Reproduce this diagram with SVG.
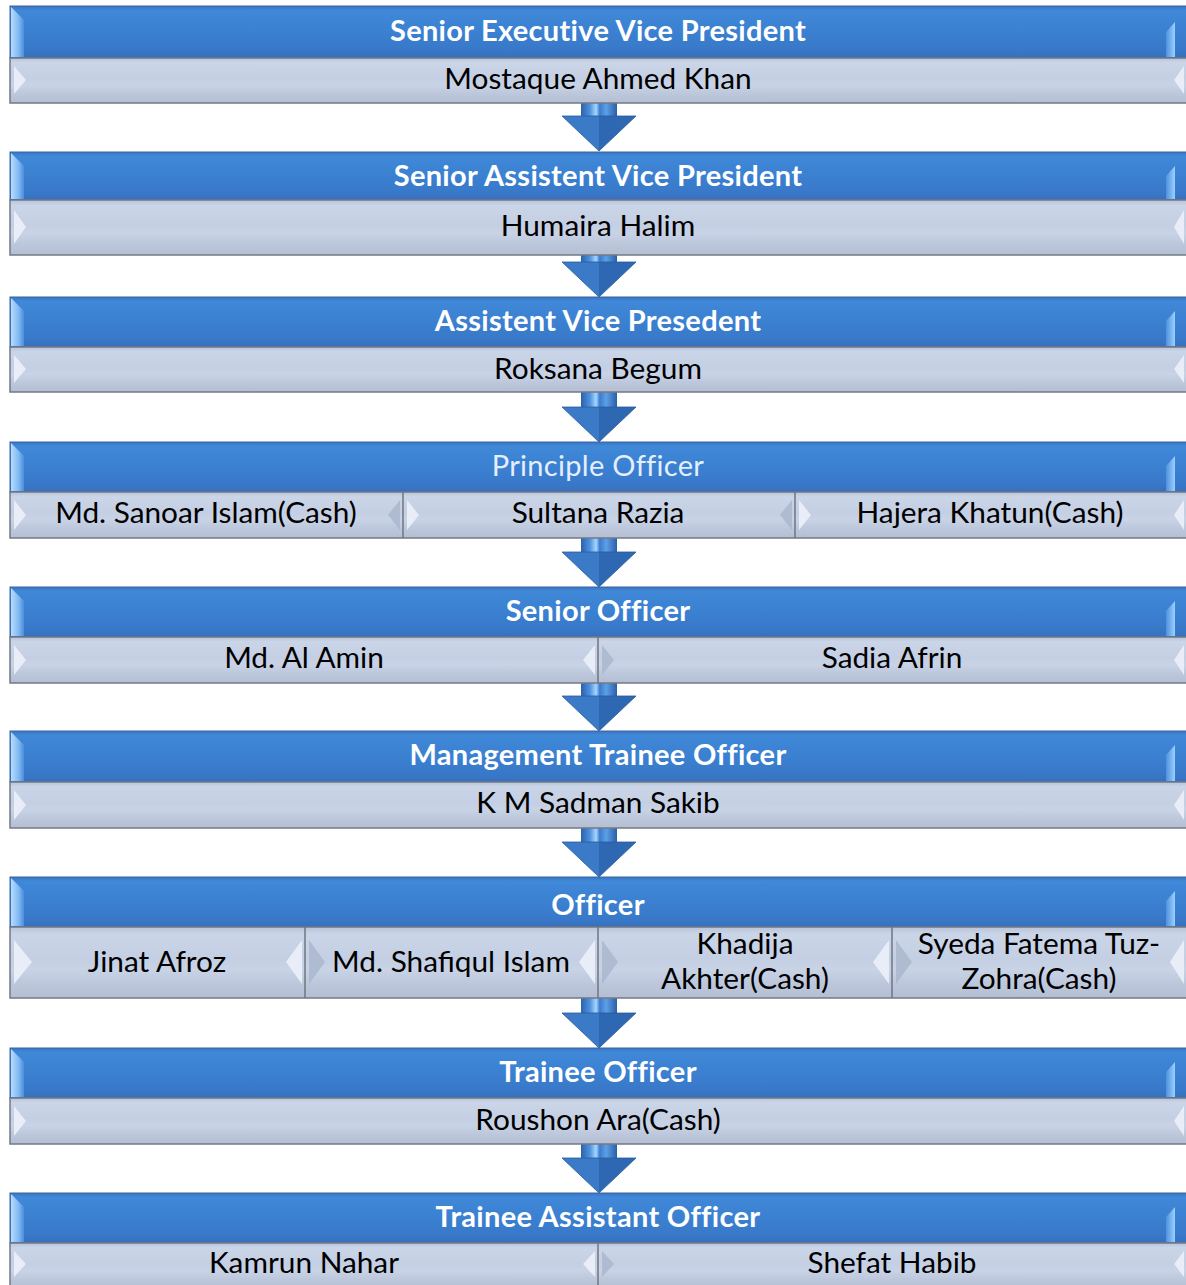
<svg xmlns="http://www.w3.org/2000/svg" width="1186" height="1285" viewBox="0 0 1186 1285">
<defs>
<linearGradient id="blueG" x1="0" y1="0" x2="0" y2="1">
<stop offset="0" stop-color="#3a74c0"/><stop offset="0.08" stop-color="#4088d8"/><stop offset="0.5" stop-color="#3b80d1"/><stop offset="0.85" stop-color="#3978c8"/><stop offset="1" stop-color="#3570bd"/>
</linearGradient>
<linearGradient id="grayG" x1="0" y1="0" x2="0" y2="1">
<stop offset="0" stop-color="#b8c3d8"/><stop offset="0.1" stop-color="#cbd5e8"/><stop offset="0.45" stop-color="#c4cfe3"/><stop offset="0.6" stop-color="#c9d3e6"/><stop offset="0.8" stop-color="#bcc7dc"/><stop offset="1" stop-color="#b4bfd4"/>
</linearGradient>
<linearGradient id="leftBev" x1="0" y1="0" x2="1" y2="0">
<stop offset="0" stop-color="#b6dcff"/><stop offset="0.6" stop-color="#7fb8f2"/><stop offset="1" stop-color="#4a8ddc"/>
</linearGradient>
<linearGradient id="rightBev" x1="0" y1="0" x2="1" y2="0">
<stop offset="0" stop-color="#4e92de"/><stop offset="1" stop-color="#9ccfff"/>
</linearGradient>
<linearGradient id="shaftG" x1="0" y1="0" x2="1" y2="0">
<stop offset="0" stop-color="#2c62aa"/><stop offset="0.25" stop-color="#4f92e0"/><stop offset="0.42" stop-color="#a8d6ff"/><stop offset="0.52" stop-color="#3a7ccc"/><stop offset="0.7" stop-color="#5d9fe8"/><stop offset="1" stop-color="#2a5fa6"/>
</linearGradient>
<g id="arrow">
<rect x="-18" y="-50" width="36" height="16" fill="url(#shaftG)"/>
<polygon points="-37,-35 0,-35 0,0" fill="#3a7ac6"/>
<polygon points="0,-35 37,-35 0,0" fill="#2f68b2"/>
<polygon points="-37,-35 37,-35 0,0" fill="none" stroke="#2a5a9e" stroke-width="0.8"/>
</g>
</defs>
<style>
.hdr{fill:url(#blueG);stroke:#3a64a0;stroke-width:1}
.bar{fill:url(#grayG);stroke:#737a86;stroke-width:1.5}
.lb{fill:url(#leftBev)}
.rb{fill:url(#rightBev)}
.tb{fill:#eef2fa;opacity:0.85}
.tr{fill:#a9b5cc;opacity:0.8}
.dv{stroke:#6f7682;stroke-width:1.5}
.ht{font-family:Lato,"Open Sans",sans-serif;font-weight:bold;font-size:29px;letter-spacing:0.3px;fill:#ffffff;text-anchor:middle}
.hl{font-family:Lato,"Open Sans",sans-serif;font-size:29px;letter-spacing:0.3px;fill:#e4eeff;text-anchor:middle}
.nt{font-family:Lato,"Open Sans",sans-serif;font-size:29.8px;fill:#000000;text-anchor:middle}
</style>
<rect width="1186" height="1285" fill="#ffffff"/>

<g id="connectors">
<use href="#arrow" x="599" y="151"/>
<use href="#arrow" x="599" y="297"/>
<use href="#arrow" x="599" y="442"/>
<use href="#arrow" x="599" y="587"/>
<use href="#arrow" x="599" y="731"/>
<use href="#arrow" x="599" y="877"/>
<use href="#arrow" x="599" y="1048"/>
<use href="#arrow" x="599" y="1193"/>
</g>

<g id="tier1">
<rect class="hdr" x="10" y="6" width="1180" height="52"/>
<polygon class="lb" points="11,7 24,20 24,57 11,57"/>
<polygon class="rb" points="1166,32 1175,22 1175,57 1166,57"/>
<text class="ht" x="598" y="41">Senior Executive Vice President</text>
<g id="n1"><rect class="bar" x="10" y="58" width="1180" height="45"/>
<polygon class="tb" points="14,66 26,80 14,94"/><polygon class="tb" points="1184,66 1174,80 1184,94"/>
<text class="nt" x="598" y="89">Mostaque Ahmed Khan</text></g>
</g>

<g id="tier2">
<rect class="hdr" x="10" y="152" width="1180" height="48"/>
<polygon class="lb" points="11,153 24,166 24,199 11,199"/>
<polygon class="rb" points="1166,176 1175,166 1175,199 1166,199"/>
<text class="ht" x="598" y="186">Senior Assistent Vice President</text>
<g id="n2"><rect class="bar" x="10" y="200" width="1180" height="55"/>
<polygon class="tb" points="14,210 26,227 14,244"/><polygon class="tb" points="1184,210 1174,227 1184,244"/>
<text class="nt" x="598" y="236">Humaira Halim</text></g>
</g>

<g id="tier3">
<rect class="hdr" x="10" y="297" width="1180" height="50"/>
<polygon class="lb" points="11,298 24,311 24,346 11,346"/>
<polygon class="rb" points="1166,321 1175,311 1175,346 1166,346"/>
<text class="ht" x="598" y="331">Assistent Vice Presedent</text>
<g id="n3"><rect class="bar" x="10" y="347" width="1180" height="45"/>
<polygon class="tb" points="14,355 26,369 14,383"/><polygon class="tb" points="1184,355 1174,369 1184,383"/>
<text class="nt" x="598" y="379">Roksana Begum</text></g>
</g>

<g id="tier4">
<rect class="hdr" x="10" y="442" width="1180" height="50"/>
<polygon class="lb" points="11,443 24,456 24,491 11,491"/>
<polygon class="rb" points="1166,466 1175,456 1175,491 1166,491"/>
<text class="hl" x="598" y="476">Principle Officer</text>
<rect class="bar" x="10" y="492" width="1180" height="46"/>
<g id="n4a"><polygon class="tb" points="14,500 26,515 14,530"/><polygon class="tr" points="400,500 388,515 400,530"/>
<text class="nt" x="206" y="523">Md. Sanoar Islam(Cash)</text></g>
<g id="n4b"><line class="dv" x1="403" y1="492" x2="403" y2="538"/><polygon class="tb" points="407,500 419,515 407,530"/><polygon class="tr" points="792,500 780,515 792,530"/>
<text class="nt" x="598" y="523">Sultana Razia</text></g>
<g id="n4c"><line class="dv" x1="795" y1="492" x2="795" y2="538"/><polygon class="tb" points="799,500 811,515 799,530"/><polygon class="tb" points="1184,500 1174,515 1184,530"/>
<text class="nt" x="990" y="523">Hajera Khatun(Cash)</text></g>
</g>

<g id="tier5">
<rect class="hdr" x="10" y="587" width="1180" height="50"/>
<polygon class="lb" points="11,588 24,601 24,636 11,636"/>
<polygon class="rb" points="1166,611 1175,601 1175,636 1166,636"/>
<text class="ht" x="598" y="621">Senior Officer</text>
<rect class="bar" x="10" y="637" width="1180" height="46"/>
<g id="n5a"><polygon class="tb" points="14,645 26,660 14,675"/><polygon class="tb" points="595,645 583,660 595,675"/>
<text class="nt" x="304" y="668">Md. Al Amin</text></g>
<g id="n5b"><line class="dv" x1="598" y1="637" x2="598" y2="683"/><polygon class="tr" points="602,645 614,660 602,675"/><polygon class="tb" points="1184,645 1174,660 1184,675"/>
<text class="nt" x="892" y="668">Sadia Afrin</text></g>
</g>

<g id="tier6">
<rect class="hdr" x="10" y="731" width="1180" height="51"/>
<polygon class="lb" points="11,732 24,745 24,781 11,781"/>
<polygon class="rb" points="1166,755 1175,745 1175,781 1166,781"/>
<text class="ht" x="598" y="765">Management Trainee Officer</text>
<g id="n6"><rect class="bar" x="10" y="782" width="1180" height="46"/>
<polygon class="tb" points="14,790 26,805 14,820"/><polygon class="tb" points="1184,790 1174,805 1184,820"/>
<text class="nt" x="598" y="813">K M Sadman Sakib</text></g>
</g>

<g id="tier7">
<rect class="hdr" x="10" y="877" width="1180" height="50"/>
<polygon class="lb" points="11,878 24,891 24,926 11,926"/>
<polygon class="rb" points="1166,901 1175,891 1175,926 1166,926"/>
<text class="ht" x="598" y="915">Officer</text>
<rect class="bar" x="10" y="927" width="1180" height="71"/>
<g id="n7a"><polygon class="tb" points="14,940 32,962 14,984"/><polygon class="tb" points="302,940 286,962 302,984"/>
<text class="nt" x="157" y="972">Jinat Afroz</text></g>
<g id="n7b"><line class="dv" x1="305" y1="927" x2="305" y2="998"/><polygon class="tr" points="309,940 325,962 309,984"/><polygon class="tb" points="595,940 579,962 595,984"/>
<text class="nt" x="451" y="972">Md. Shafiqul Islam</text></g>
<g id="n7c"><line class="dv" x1="598" y1="927" x2="598" y2="998"/><polygon class="tr" points="602,940 618,962 602,984"/><polygon class="tb" points="889,940 873,962 889,984"/>
<text class="nt" x="745" y="954">Khadija</text><text class="nt" x="745" y="989">Akhter(Cash)</text></g>
<g id="n7d"><line class="dv" x1="892" y1="927" x2="892" y2="998"/><polygon class="tr" points="896,940 912,962 896,984"/><polygon class="tb" points="1184,940 1170,962 1184,984"/>
<text class="nt" x="1039" y="954">Syeda Fatema Tuz-</text><text class="nt" x="1039" y="989">Zohra(Cash)</text></g>
</g>

<g id="tier8">
<rect class="hdr" x="10" y="1048" width="1180" height="50"/>
<polygon class="lb" points="11,1049 24,1062 24,1097 11,1097"/>
<polygon class="rb" points="1166,1072 1175,1062 1175,1097 1166,1097"/>
<text class="ht" x="598" y="1082">Trainee Officer</text>
<g id="n8"><rect class="bar" x="10" y="1098" width="1180" height="46"/>
<polygon class="tb" points="14,1106 26,1121 14,1136"/><polygon class="tb" points="1184,1106 1174,1121 1184,1136"/>
<text class="nt" x="598" y="1130">Roushon Ara(Cash)</text></g>
</g>

<g id="tier9">
<rect class="hdr" x="10" y="1193" width="1180" height="50"/>
<polygon class="lb" points="11,1194 24,1207 24,1242 11,1242"/>
<polygon class="rb" points="1166,1217 1175,1207 1175,1242 1166,1242"/>
<text class="ht" x="598" y="1227">Trainee Assistant Officer</text>
<rect class="bar" x="10" y="1243" width="1180" height="46"/>
<g id="n9a"><polygon class="tb" points="14,1251 26,1264 14,1277"/><polygon class="tb" points="595,1251 583,1264 595,1277"/>
<text class="nt" x="304" y="1273">Kamrun Nahar</text></g>
<g id="n9b"><line class="dv" x1="598" y1="1243" x2="598" y2="1285"/><polygon class="tr" points="602,1251 614,1264 602,1277"/><polygon class="tb" points="1184,1251 1174,1264 1184,1277"/>
<text class="nt" x="892" y="1273">Shefat Habib</text></g>
</g>
</svg>
